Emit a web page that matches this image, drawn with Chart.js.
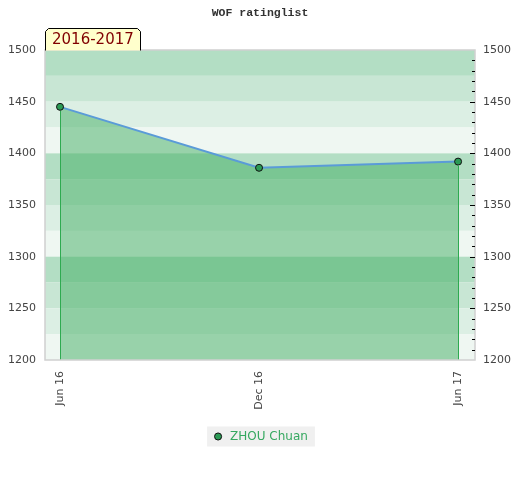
<!DOCTYPE html>
<html><head><meta charset="utf-8">
<script src="https://cdn.jsdelivr.net/npm/chart.js@4.4.0/dist/chart.umd.min.js"></script>
<style>html,body{margin:0;padding:0;background:#fff}#wrap{width:520px;height:480px;position:relative}</style>
</head><body><div id="wrap"><canvas id="c" width="520" height="480"></canvas></div>
<script>
const titleText = 'WOF ratinglist';
const seasonLabel = '2016-2017';
const seriesName = 'ZHOU Chuan';
const dateLabels = ['Jun 16', 'Dec 16', 'Jun 17'];
const ratings = [1445, 1386, 1392];
const yTickValues = [1200, 1250, 1300, 1350, 1400, 1450, 1500];
const yMin = 1200, yMax = 1500;
const bandStep = 25;
const minorStep = 10;

const bandColors = ['#b3dec4', '#c8e6d4', '#dcefe4', '#eff7f2'];

const decorPlugin = {
  id: 'decor',
  beforeDraw(chart) {
    const ctx = chart.ctx;
    const lg = chart.legend;
    if (lg && lg.legendHitBoxes && lg.legendHitBoxes.length) {
      const hb = lg.legendHitBoxes[0];
      ctx.save();
      ctx.fillStyle = '#f0f0f0';
      ctx.fillRect(hb.left - 5, hb.top - 4, hb.width + 12, hb.height + 8);
      ctx.restore();
    }
  },
  beforeDatasetsDraw(chart) {
    const ctx = chart.ctx, a = chart.chartArea, ys = chart.scales.y;
    ctx.save();
    let i = 0;
    for (let v = yMax; v > yMin; v -= bandStep, i++) {
      const t = ys.getPixelForValue(v), b = ys.getPixelForValue(v - bandStep);
      ctx.fillStyle = bandColors[i % 4];
      ctx.fillRect(a.left, t, a.right - a.left, b - t);
    }
    ctx.restore();
  },
  afterDatasetsDraw(chart) {
    const ctx = chart.ctx, a = chart.chartArea;
    const meta = chart.getDatasetMeta(0);
    ctx.save();
    ctx.strokeStyle = '#2eaa50';
    ctx.lineWidth = 1;
    [meta.data[0], meta.data[meta.data.length - 1]].forEach(p => {
      const x = Math.round(p.x) + 0.5;
      ctx.beginPath();
      ctx.moveTo(x, p.y + 4);
      ctx.lineTo(x, a.bottom);
      ctx.stroke();
    });
    ctx.strokeStyle = '#d0d0d0';
    ctx.lineWidth = 1.5;
    ctx.strokeRect(a.left, a.top, a.right - a.left, a.bottom - a.top);
    const ys = chart.scales.y2;
    ctx.strokeStyle = '#000';
    ctx.lineWidth = 1;
    for (let v = yMin + minorStep; v < yMax; v += minorStep) {
      const y = Math.round(ys.getPixelForValue(v)) + 0.5;
      const len = (v % 50 === 0) ? 5 : 3;
      ctx.beginPath();
      ctx.moveTo(a.right - len, y);
      ctx.lineTo(a.right, y);
      ctx.stroke();
    }
    ctx.restore();
  },
  afterDraw(chart) {
    const ctx = chart.ctx, a = chart.chartArea;
    ctx.save();
    const l = 45.5, r = 140.5, t = 28.5, b = a.top + 0.5;
    ctx.beginPath();
    ctx.moveTo(l, b);
    ctx.lineTo(l, t + 3);
    ctx.lineTo(l + 3, t);
    ctx.lineTo(r - 3, t);
    ctx.lineTo(r, t + 3);
    ctx.lineTo(r, b);
    ctx.fillStyle = '#ffffcc';
    ctx.fill();
    ctx.strokeStyle = '#000';
    ctx.lineWidth = 1;
    ctx.stroke();
    ctx.fillStyle = '#800000';
    ctx.font = '15px "DejaVu Sans"';
    ctx.textBaseline = 'middle';
    ctx.textAlign = 'left';
    ctx.fillText(seasonLabel, 52, 40);
    ctx.restore();
  }
};

const points = ratings.map((v, i) => ({x: i, y: v}));
const plainNum = v => String(v);

new Chart(document.getElementById('c'), {
  type: 'line',
  data: {
    datasets: [{
      label: seriesName,
      data: points,
      borderColor: '#5a9bd8',
      borderWidth: 2,
      backgroundColor: 'rgba(65,173,98,0.5)',
      fill: 'start',
      tension: 0,
      pointRadius: 3.5,
      pointBackgroundColor: '#2b9a55',
      pointBorderColor: '#111',
      pointBorderWidth: 1
    }]
  },
  options: {
    responsive: false,
    animation: false,
    layout: {padding: {top: 0, left: 0, right: 0, bottom: 27.5}},
    plugins: {
      title: {
        display: true,
        text: titleText,
        color: '#333',
        font: {family: '"Liberation Mono", monospace', size: 11.5, weight: 'bold'},
        padding: {top: 6, bottom: 30.2}
      },
      legend: {
        position: 'bottom',
        labels: {
          usePointStyle: true,
          pointStyle: 'circle',
          boxHeight: 5,
          padding: 10,
          color: '#35a860',
          font: {family: '"DejaVu Sans"', size: 12}
        }
      },
      tooltip: {enabled: false}
    },
    scales: {
      x: {
        type: 'linear',
        min: -0.0754,
        max: 2.085,
        afterBuildTicks: s => { s.ticks = dateLabels.map((_, i) => ({value: i})); },
        afterFit: s => { s.height = 60.5; },
        grid: {display: false, drawTicks: false},
        border: {display: false},
        ticks: {
          autoSkip: false,
          minRotation: 90,
          maxRotation: 90,
          padding: 11,
          color: '#444',
          font: {family: '"DejaVu Sans"', size: 11},
          callback: v => dateLabels[Math.round(v)]
        }
      },
      y: {
        position: 'left',
        min: yMin,
        max: yMax,
        afterBuildTicks: s => { s.ticks = yTickValues.map(v => ({value: v})); },
        afterFit: s => { s.width = 45; },
        grid: {display: false, drawTicks: false},
        border: {display: false},
        ticks: {padding: 9, color: '#444', font: {family: '"DejaVu Sans"', size: 11}, callback: plainNum}
      },
      y2: {
        position: 'right',
        min: yMin,
        max: yMax,
        afterBuildTicks: s => { s.ticks = yTickValues.map(v => ({value: v})); },
        afterFit: s => { s.width = 45; },
        grid: {display: false, drawTicks: false},
        border: {display: false},
        ticks: {padding: 8, color: '#444', font: {family: '"DejaVu Sans"', size: 11}, callback: plainNum}
      }
    }
  },
  plugins: [decorPlugin]
});
</script>
</body></html>
